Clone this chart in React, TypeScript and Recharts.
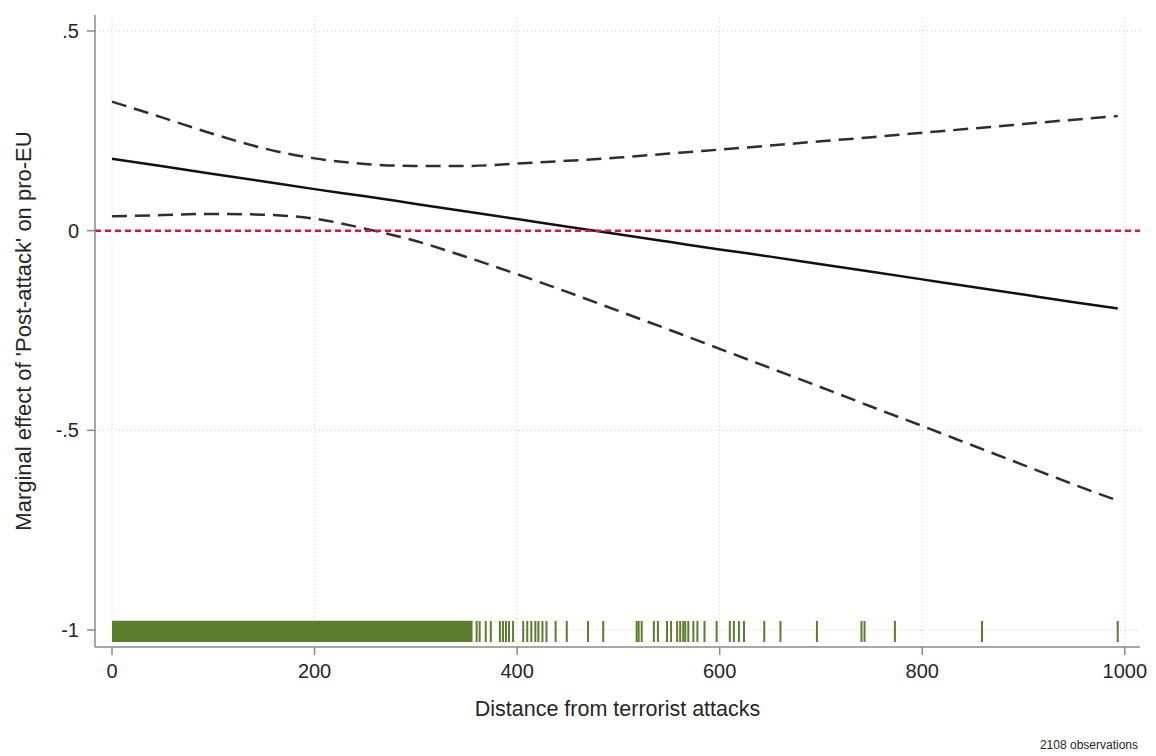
import React from "react";
import {
  ComposedChart, Line, Scatter, XAxis, YAxis, ReferenceLine, ReferenceArea, Label,
} from "recharts";

const DIST = [0, 50, 100, 150, 200, 250, 300, 350, 400, 450, 500, 550, 600, 650, 700, 750, 800, 850, 900, 950, 993];
const EFFECT = [0.180, 0.161, 0.142, 0.123, 0.104, 0.086, 0.067, 0.048, 0.029, 0.010, -0.009, -0.028, -0.047, -0.065, -0.084, -0.103, -0.122, -0.141, -0.160, -0.179, -0.195];
const UPPER = [0.323, 0.283, 0.242, 0.206, 0.181, 0.167, 0.162, 0.162, 0.168, 0.175, 0.183, 0.193, 0.203, 0.213, 0.224, 0.234, 0.245, 0.256, 0.267, 0.278, 0.287];
const LOWER = [0.036, 0.039, 0.042, 0.040, 0.030, 0.005, -0.026, -0.066, -0.109, -0.154, -0.201, -0.248, -0.296, -0.344, -0.392, -0.441, -0.489, -0.538, -0.587, -0.636, -0.676];

// rug: dense block of observations, then single ticks
const RUG_DENSE = [0, 356];
const RUG_X = [360, 363, 369, 374, 383, 386, 389, 392, 396, 406, 410, 414, 418, 421, 425, 429, 438, 449, 470, 485,
  518, 520, 523, 535, 539, 548, 552, 558, 561, 564, 566, 569, 574, 578, 585, 597, 610, 614, 619, 624,
  644, 660, 696, 740, 743, 773, 859, 993];
const RUG_Y = -1;
const RUG_LO = -1.03;
const RUG_HI = -0.977;

const X_TICKS = [0, 200, 400, 600, 800, 1000];
const Y_TICKS = [-1, -0.5, 0, 0.5];
const X_DOMAIN = [-16.8, 1015];
const Y_DOMAIN = [-1.0425, 0.54];

const rows = DIST.map((x, i) => ({ x, effect: EFFECT[i], upper: UPPER[i], lower: LOWER[i] }));
const rug = RUG_X.map(x => ({ x, y: RUG_Y }));

const FONT = "'Liberation Sans', Arial, sans-serif";
const AXIS = "#8a8a8a";
const GRID = "#c9c9c9";
const RUG_COLOR = "#5c7c2e";

function fmtY(v: number) {
  if (v === 0) return "0";
  return String(v).replace("0.", ".");
}

function RugTick(props: any) {
  const { cx, cy } = props;
  if (cx == null || cy == null) return null;
  return <line x1={cx} x2={cx} y1={cy - 9} y2={cy + 12} stroke={RUG_COLOR} strokeWidth={2} />;
}

// vertical grid lines stop where the dense rug block would cover them
function vGridFrom(t: number) {
  return t >= RUG_DENSE[0] && t <= RUG_DENSE[1] ? RUG_HI : Y_DOMAIN[0];
}

export default function App() {
  return (
    <div style={{ position: "relative", width: 1156, height: 756, background: "#fff", fontFamily: FONT }}>
      <style>{`body{margin:0;background:#fff}`}</style>
      <ComposedChart width={1156} height={756} data={rows} margin={{ top: 15, right: 16, left: 0, bottom: 53 }}>
        <XAxis type="number" dataKey="x" domain={X_DOMAIN} ticks={X_TICKS} allowDataOverflow height={56}
          stroke={AXIS} strokeWidth={1.5} tickSize={8} tickMargin={9}
          tick={{ fontSize: 20, fill: "#262626", fontFamily: FONT }}>
          <Label content={(p: any) => {
            const vb = p.viewBox;
            return <text x={vb.x + vb.width / 2} y={vb.y + 69} textAnchor="middle" fontSize={21.5} fill="#262626" fontFamily={FONT}>Distance from terrorist attacks</text>;
          }} />
        </XAxis>
        <YAxis type="number" dataKey="y" domain={Y_DOMAIN} ticks={Y_TICKS} allowDataOverflow width={95}
          stroke={AXIS} strokeWidth={1.5} tickSize={8} tickMargin={8} tickFormatter={fmtY}
          tick={{ fontSize: 20, fill: "#262626", fontFamily: FONT }}>
          <Label content={(p: any) => {
            const vb = p.viewBox;
            const cx = vb.x + 23, cy = vb.y + vb.height / 2;
            return <text x={cx} y={cy} transform={`rotate(-90 ${cx} ${cy})`} textAnchor="middle" dominantBaseline="central" fontSize={22} fill="#262626" fontFamily={FONT}>Marginal effect of 'Post-attack' on pro-EU</text>;
          }} />
        </YAxis>
        {/* dotted grid at the tick values only */}
        {X_TICKS.map(t => <ReferenceLine key={"gx" + t} segment={[{ x: t, y: vGridFrom(t) }, { x: t, y: Y_DOMAIN[1] }]} stroke={GRID} strokeWidth={1} strokeDasharray="1 3" />)}
        {Y_TICKS.filter(t => t !== RUG_Y).map(t => <ReferenceLine key={"gy" + t} y={t} stroke={GRID} strokeWidth={1} strokeDasharray="1 3" />)}
        <ReferenceLine segment={[{ x: RUG_DENSE[1], y: RUG_Y }, { x: X_DOMAIN[1], y: RUG_Y }]} stroke={GRID} strokeWidth={1} strokeDasharray="1 3" />
        <ReferenceArea x1={RUG_DENSE[0]} x2={RUG_DENSE[1]} y1={RUG_LO} y2={RUG_HI} fill={RUG_COLOR} fillOpacity={1} stroke="none" ifOverflow="visible" />
        <Scatter data={rug} dataKey="y" shape={RugTick} isAnimationActive={false} />
        <Line type="monotone" dataKey="upper" stroke="#2e2e2e" strokeWidth={2.5} strokeDasharray="15 8" dot={false} activeDot={false} isAnimationActive={false} />
        <Line type="monotone" dataKey="lower" stroke="#2e2e2e" strokeWidth={2.5} strokeDasharray="15 8" dot={false} activeDot={false} isAnimationActive={false} />
        <Line type="monotone" dataKey="effect" stroke="#111" strokeWidth={2.5} dot={false} activeDot={false} isAnimationActive={false} />
        <ReferenceLine y={0} stroke="#dc143c" strokeWidth={2.5} strokeDasharray="6 4" />
      </ComposedChart>
      <div style={{ position: "absolute", right: 18, top: 738, fontSize: 12, color: "#262626" }}>2108 observations</div>
    </div>
  );
}
